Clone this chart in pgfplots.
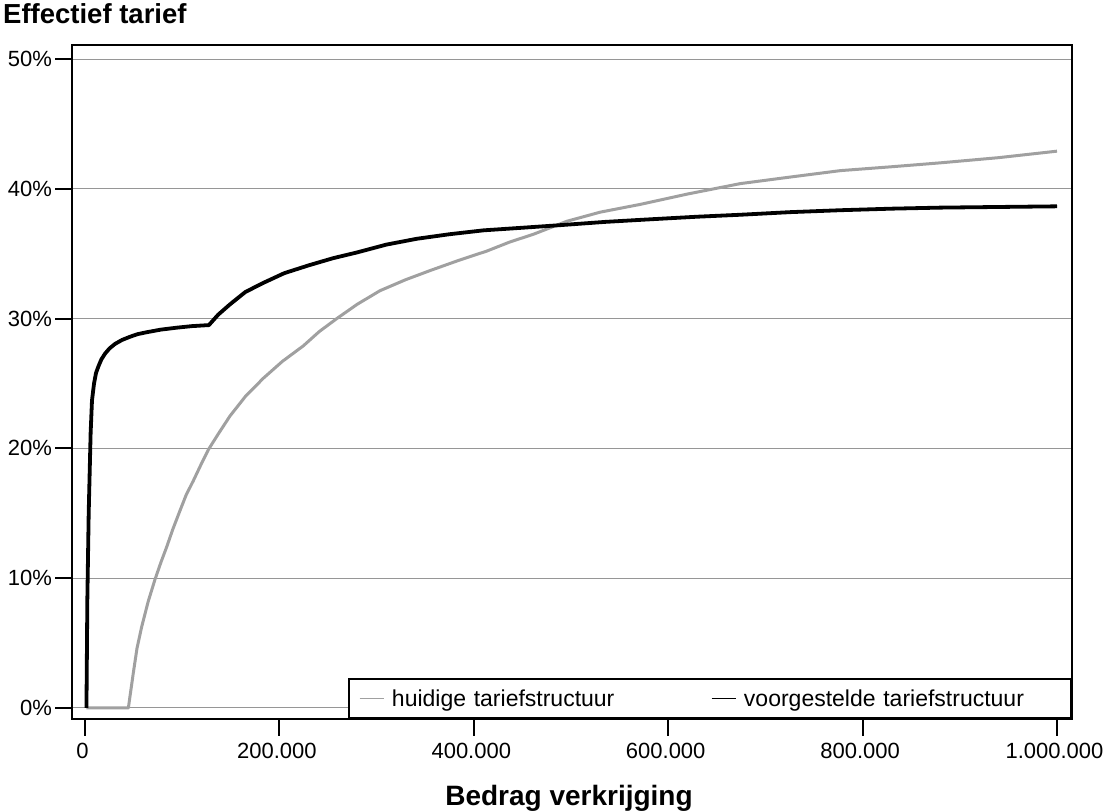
\documentclass[border=0pt]{standalone}
\usepackage{pgfplots}
\pgfplotsset{compat=1.18}
\usepackage{fontspec}
\setmainfont{Liberation Sans}
\definecolor{curgray}{RGB}{160,160,160}
\definecolor{gridgray}{RGB}{150,150,150}
\begin{document}
\begin{tikzpicture}[x=1pt,y=1pt]
\begin{axis}[
  at={(0,0)}, anchor=south west,
  scale only axis, width=1000pt, height=673.5pt,
  xmin=-13375, xmax=1015426, ymin=-0.81, ymax=51.08,
  axis line style={line width=2pt},
  tick align=inside, major tick length=-17pt,
  xtick pos=bottom, ytick pos=left,
  tick style={line width=2pt, black},
  xtick={0,200000,400000,600000,800000,1000000},
  ytick={0,10,20,30,40,50},
  scaled x ticks=false,
  /pgf/number format/assume math mode=true,
  xticklabel style={anchor=north, xshift=-2.5pt, yshift=-21pt, /pgf/number format/.cd, fixed, precision=0, 1000 sep={.}},
  yticklabel style={anchor=east, xshift=-16.5pt},
  yticklabel={\pgfmathprintnumber{\tick}\%},
  ticklabel style={font=\fontsize{22}{26}\selectfont},
  ymajorgrids, grid style={gridgray, line width=1pt},
  legend columns=2,
  legend image code/.code={\draw[#1, line width=1.5pt] (0pt,0pt) -- (24pt,0pt);},
  legend style={at={(rel axis cs:1,0)}, anchor=south east, draw=black, line width=2pt,
    fill=white, font=\fontsize{23}{27}\selectfont, inner xsep=10pt, inner ysep=10pt,
    nodes={inner sep=0pt},
    /tikz/every odd column/.append style={column sep=7.5pt}},
]
\addplot[curgray, line width=3pt, line join=round] coordinates {
(1500,0) (44600,0) (49700,2.7) (53500,4.6) (58300,6.25) (65000,8.2) (72000,9.9)
(78000,11.2) (84000,12.4) (90500,13.8) (97700,15.2) (104000,16.4) (111400,17.5)
(119000,18.7) (126900,19.9) (137000,21.1) (149200,22.5) (165000,24.0) (183400,25.4)
(203000,26.7) (224600,27.9) (241000,29.0) (259000,30.0) (280000,31.1) (303500,32.15)
(330000,33.0) (355000,33.7) (385000,34.5) (413300,35.2) (437000,35.9) (461400,36.5)
(495800,37.5) (530000,38.2) (571300,38.8) (620000,39.6) (674200,40.4) (725000,40.9)
(777100,41.4) (830000,41.7) (880000,42.0) (940000,42.4) (1000000,42.9)
};
\addlegendentry[text width=319pt, align=left]{huidige tariefstructuur}
\addplot[black, line width=3.8pt, line join=round] coordinates {
(1500,0) (2400,8.3) (3800,15.0) (5800,21.2) (7200,23.7) (9300,25.0) (11300,25.8)
(13700,26.3) (16800,26.85) (20600,27.3) (25200,27.7) (30900,28.05) (38000,28.35)
(46300,28.6) (54000,28.8) (63500,28.95) (78000,29.15) (94300,29.3) (110000,29.42)
(127500,29.5) (137000,30.3) (149200,31.1) (165000,32.05) (183400,32.75) (205000,33.5)
(230000,34.1) (255000,34.65) (280000,35.1) (310000,35.7) (341400,36.15) (375000,36.5)
(410000,36.8) (450000,37.0) (489000,37.2) (535000,37.45) (581500,37.65) (630000,37.85)
(674000,38.0) (725000,38.2) (777000,38.35) (830000,38.47) (880000,38.55) (940000,38.6)
(1000000,38.65)
};
\addlegendentry[text width=317pt, align=left]{voorgestelde tariefstructuur}
\end{axis}
\node[anchor=base west, inner sep=0pt, font=\fontsize{27.5}{32}\selectfont\bfseries] at (-69,694.5) {Effectief tarief};
\node[anchor=base, inner sep=0pt, font=\fontsize{28}{32}\selectfont\bfseries] at (497,-86.5) {Bedrag verkrijging};
\pgfresetboundingbox
\path[use as bounding box] (-72,-92.5) rectangle (1033,718.5);
\end{tikzpicture}
\end{document}
